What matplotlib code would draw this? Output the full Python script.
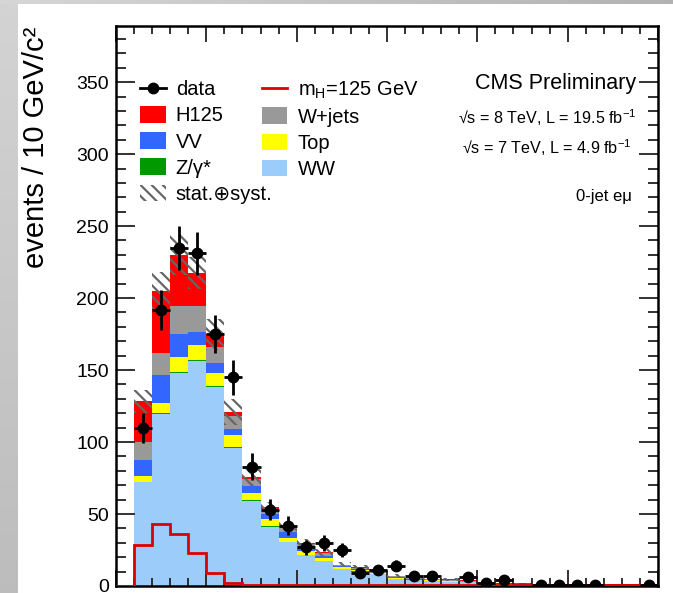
import numpy as np
import matplotlib
matplotlib.use("Agg")
import matplotlib.pyplot as plt
from matplotlib.lines import Line2D
from matplotlib.patches import Patch

plt.rcParams["font.family"] = ["Liberation Sans", "DejaVu Sans"]
plt.rcParams["mathtext.fontset"] = "custom"
plt.rcParams["mathtext.rm"] = "Liberation Sans"
plt.rcParams["mathtext.it"] = "Liberation Sans:italic"
plt.rcParams["hatch.linewidth"] = 1.6

# binning: 30 bins of 10 GeV from 0 to 300
edges = np.arange(0, 301, 10)
centers = edges[:-1] + 5

# observed events per bin (0 = no point drawn)
data = [0, 110, 192, 235, 231, 175, 145, 83, 53, 42, 27, 30, 25, 9, 11,
        14, 7, 7, 0, 6, 2, 4, 0, 1, 1, 1, 1, 0, 0, 1]

# stacked backgrounds + signal (bottom to top)
ww = [0, 71.9, 119.5, 147.8, 156.1, 138.4, 95.9, 59.0, 41.1, 30.6, 21.5,
      17.1, 11.9, 10.0, 8.0, 5.0, 4.0, 3.5, 3.0, 2.5, 1.2, 1.0, 0.8, 0.6,
      0.5, 0.4, 0.4, 0.3, 0.3, 0.3]
zg = [0, 0.3, 0.8, 0.8, 0.6, 0.5, 0.6, 0.4, 0.3, 0.3, 0.2, 0.2, 0.1, 0.1,
      0.1, 0.1, 0.1, 0.1, 0.1, 0.1, 0, 0, 0, 0, 0, 0, 0, 0, 0, 0]
top = [0, 3.9, 7.0, 10.4, 10.5, 9.0, 8.5, 5.4, 5.3, 2.6, 2.5, 2.0, 1.0,
       0.8, 0.6, 0.5, 0.4, 0.3, 0.3, 0.3, 0.2, 0.2, 0.2, 0.1, 0.1, 0.1,
       0.1, 0.1, 0.1, 0.1]
vv = [0, 11.6, 19.0, 16.3, 9.2, 7.3, 4.4, 4.4, 3.5, 3.9, 2.0, 1.5, 0.6,
      0.6, 0.5, 0.4, 0.3, 0.3, 0.3, 0.2, 0.2, 0.2, 0.1, 0.1, 0.1, 0.1,
      0.1, 0.1, 0.1, 0.1]
wjets = [0, 12.3, 15.7, 18.9, 17.9, 10.8, 9.0, 5.3, 3.5, 3.5, 3.0, 2.0,
         0.7, 1.0, 0.8, 0.6, 0.5, 0.4, 0.4, 0.3, 0.3, 0.2, 0.2, 0.2, 0.1,
         0.1, 0.1, 0.1, 0.1, 0.1]
h125 = [0, 28.4, 43.2, 35.8, 22.9, 8.8, 2.2, 1.0, 0.9, 0.8, 0.7, 0.7, 0.6,
        0.6, 0.6, 0.5, 0.5, 0.5, 0.5, 0.5, 0.5, 0.5, 0.5, 0.5, 0.5, 0.5,
        0.5, 0.5, 0.5, 0.5]
# stat+syst uncertainty on total prediction
unc = [0, 8, 13, 14, 11, 11, 9, 6, 4, 3.5, 3, 2.5, 2, 1.8, 1.5, 1.2, 1,
       1, 0.8, 0.7, 0.6, 0.5, 0.5, 0.4, 0.4, 0.3, 0.3, 0.3, 0.3, 0.3]

components = [
    ("WW", ww, "#9cccfa"),
    ("Z/\u03b3*", zg, "#009900"),
    ("Top", top, "#ffff00"),
    ("VV", vv, "#3366ff"),
    ("W+jets", wjets, "#999999"),
    ("H125", h125, "#ff0000"),
]

fig = plt.figure(figsize=(6.73, 5.93), dpi=100)

# grey frame bands of the original screenshot
top_band = np.ones((4, 673, 3)) * np.linspace(0.84, 0.70, 673)[None, :, None]
left_band = np.ones((593, 18, 3)) * np.linspace(0.83, 0.74, 593)[:, None, None]
fig.figimage(left_band, xo=0, yo=0, origin="upper", zorder=0)
fig.figimage(top_band, xo=0, yo=589, origin="upper", zorder=0)

ax = fig.add_axes([116 / 673, 7 / 593, 542 / 673, 560 / 593])

bottom = np.zeros(len(centers))
for name, vals, col in components:
    vals = np.array(vals)
    ax.stairs(bottom + vals, edges, baseline=bottom, fill=True,
              color=col, lw=0, zorder=1)
    bottom = bottom + vals

total = bottom
err = np.array(unc)
ax.stairs(total + err, edges, baseline=total - err, fill=True,
          facecolor="none", edgecolor="#666666", lw=0,
          hatch="\\\\\\", zorder=2)

# signal alone
ax.stairs(h125, edges, color="#dd0000", lw=2, zorder=3.5)

d = np.array(data, dtype=float)
m = d > 0
ax.errorbar(centers[m], d[m], yerr=np.sqrt(d[m]), xerr=5, fmt="o",
            color="black", ms=7.5, elinewidth=2, capsize=0, zorder=4)

ax.set_xlim(0, 300)
ax.set_ylim(0, 389)
ax.set_xticks(np.arange(0, 301, 50))
ax.set_xticks(np.arange(0, 301, 10), minor=True)
ax.set_yticks(np.arange(0, 351, 50))
ax.set_yticks(np.arange(0, 381, 10), minor=True)
ax.tick_params(axis="both", which="both", direction="in", top=True,
               right=True, width=1.3, color="#222222")
ax.tick_params(axis="y", which="major", length=13.5, labelsize=14, pad=5)
ax.tick_params(axis="y", which="minor", length=7)
ax.tick_params(axis="x", which="major", length=11.5, labelbottom=False)
ax.tick_params(axis="x", which="minor", length=6)
for s in ax.spines.values():
    s.set_linewidth(1.8)

fig.text(36 / 673, (593 - 27) / 593, "events / 10 GeV/c\u00b2",
         rotation=90, ha="center", va="top", fontsize=21)

handles = [
    Line2D([], [], color="black", marker="o", ms=7.5, lw=2),
    Patch(color="#ff0000", lw=0),
    Patch(color="#3366ff", lw=0),
    Patch(color="#009900", lw=0),
    Patch(facecolor="none", edgecolor="#666666", hatch="\\\\\\", lw=0),
    Line2D([], [], color="#dd0000", lw=2),
    Patch(color="#999999", lw=0),
    Patch(color="#ffff00", lw=0),
    Patch(color="#9cccfa", lw=0),
]
labels = ["data", "H125", "VV", "Z/\u03b3*", "stat.\u2295syst.",
          r"m$_{\mathrm{H}}$=125 GeV", "W+jets", "Top", "WW"]
ax.legend(handles, labels, ncol=2, loc="upper left",
          bbox_to_anchor=(0.045, 0.905), frameon=False, fontsize=14.5,
          handlelength=1.25, handleheight=0.9, handletextpad=0.5,
          labelspacing=0.34, columnspacing=-0.5, borderpad=0,
          borderaxespad=0)

sq = "\u221a"
ax.text(0.959, 0.898, "CMS Preliminary", transform=ax.transAxes,
        ha="right", va="center", fontsize=15.5)
ax.text(0.961, 0.836, sq + r"s = 8 TeV, L = 19.5 fb$^{-1}$",
        transform=ax.transAxes, ha="right", va="center", fontsize=11.6)
ax.text(0.952, 0.782, sq + r"s = 7 TeV, L = 4.9 fb$^{-1}$",
        transform=ax.transAxes, ha="right", va="center", fontsize=11.6)
ax.text(0.952, 0.695, "0-jet e\u03bc", transform=ax.transAxes,
        ha="right", va="center", fontsize=12)

fig.savefig("out.png", dpi=100)
